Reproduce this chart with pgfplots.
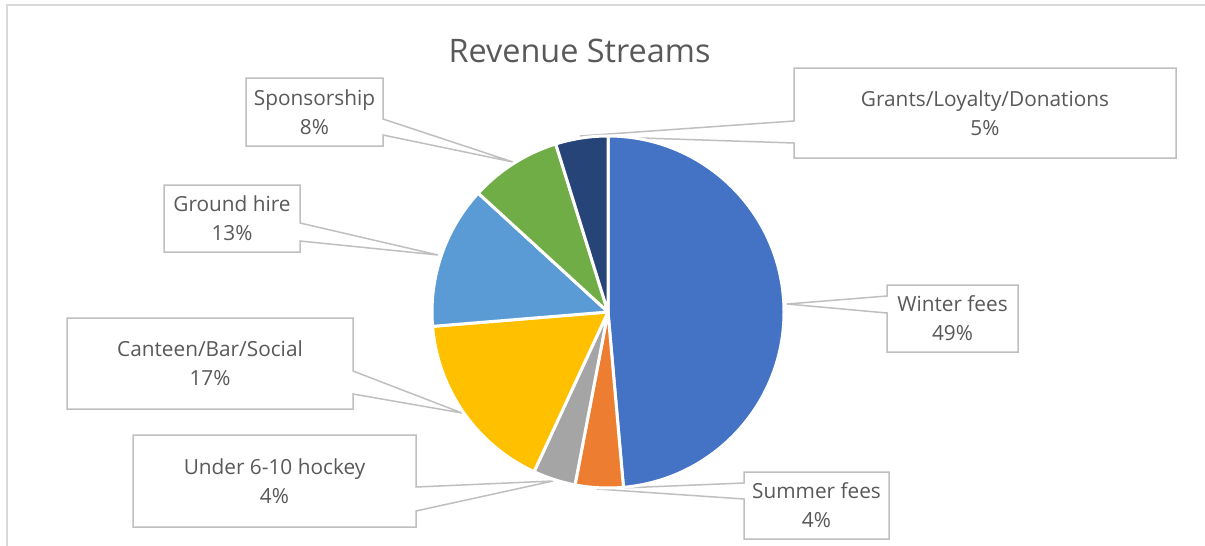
\documentclass[border=0pt]{standalone}
\usepackage{pgfplots}
\pgfplotsset{compat=1.18}
\usepackage{pgfplotstable}
\usepackage{fontspec}
\setmainfont{Open Sans}

\definecolor{c1}{HTML}{4472C4}
\definecolor{c2}{HTML}{ED7D31}
\definecolor{c3}{HTML}{A5A5A5}
\definecolor{c4}{HTML}{FFC000}
\definecolor{c5}{HTML}{5B9BD5}
\definecolor{c6}{HTML}{70AD47}
\definecolor{c7}{HTML}{264478}
\definecolor{txt}{HTML}{595959}
\definecolor{boxgray}{HTML}{BFBFBF}
\definecolor{framegray}{HTML}{D9D9D9}

% share of revenue, clockwise from 12 o'clock
\pgfplotstableread[col sep=comma]{
name,value,color
Winter fees,48.6,c1
Summer fees,4.4,c2
Under 6-10 hockey,3.9,c3
Canteen/Bar/Social,16.8,c4
Ground hire,13.1,c5
Sponsorship,8.4,c6
Grants/Loyalty/Donations,4.8,c7
}\revtable

\begin{document}
\begin{tikzpicture}[
    callout/.style={draw=boxgray, fill=white, line width=0.75pt, line join=miter},
    lbl/.style={text=txt, align=center, font=\fontsize{10.4}{14.5}\selectfont},
  ]
\begin{axis}[
    name=ax,
    scale only axis,
    width=602.5pt, height=273pt,
    xmin=0, xmax=1205, ymin=0, ymax=546,
    y dir=reverse,
    hide axis,
    clip=false,
  ]
  % chart area border (cropped on right and bottom)
  \draw[framegray, line width=0.75pt] (axis cs:7,546) -- (axis cs:7,5) -- (axis cs:1205,5);

  \node[text=txt, anchor=base, font=\fontsize{16.2}{20}\selectfont] at (axis cs:579.5,62.7) {Revenue Streams};

  % data label callouts
  \draw[callout] (axis cs:246,78) -- (axis cs:383,78) -- (axis cs:383,119) -- (axis cs:513,162)
    -- (axis cs:383,135) -- (axis cs:383,146) -- (axis cs:246,146) -- cycle;
  \draw[callout] (axis cs:794,68) -- (axis cs:1176,68) -- (axis cs:1176,158) -- (axis cs:794,158)
    -- (axis cs:794,143) -- (axis cs:580,136) -- (axis cs:794,121) -- cycle;
  \draw[callout] (axis cs:164,185) -- (axis cs:300,185) -- (axis cs:300,223) -- (axis cs:438,255)
    -- (axis cs:300,241) -- (axis cs:300,252) -- (axis cs:164,252) -- cycle;
  \draw[callout] (axis cs:67,318) -- (axis cs:353,318) -- (axis cs:353,371) -- (axis cs:462,413)
    -- (axis cs:353,394) -- (axis cs:353,409) -- (axis cs:67,409) -- cycle;
  \draw[callout] (axis cs:133,435) -- (axis cs:416,435) -- (axis cs:416,487) -- (axis cs:553,481)
    -- (axis cs:416,511) -- (axis cs:416,527) -- (axis cs:133,527) -- cycle;
  \draw[callout] (axis cs:887,285) -- (axis cs:1018,285) -- (axis cs:1018,352) -- (axis cs:887,352)
    -- (axis cs:887,313) -- (axis cs:787,304) -- (axis cs:887,296) -- cycle;
  \draw[callout] (axis cs:744,472) -- (axis cs:889,472) -- (axis cs:889,539) -- (axis cs:744,539)
    -- (axis cs:744,499) -- (axis cs:597,489) -- (axis cs:744,483) -- cycle;

  % pie wedges from the table
  \def\angA{90}
  \pgfplotsforeachungrouped \i in {0,...,6}{
    \pgfplotstablegetelem{\i}{value}\of\revtable \let\val\pgfplotsretval
    \pgfplotstablegetelem{\i}{color}\of\revtable \let\col\pgfplotsretval
    \pgfmathsetmacro\angB{\angA-3.6*\val}
    \edef\wedge{\noexpand\fill[\col, draw=white, line width=1.5pt, line join=round]
      (axis cs:608,312) -- ++(\angA:88pt) arc[start angle=\angA, end angle=\angB, radius=88pt] -- cycle;}
    \wedge
    \global\let\angA\angB
  }

  \node[lbl] at (axis cs:314.5,112) {Sponsorship\\8\%};
  \node[lbl] at (axis cs:985,113) {Grants/Loyalty/Donations\\5\%};
  \node[lbl] at (axis cs:232,218.5) {Ground hire\\13\%};
  \node[lbl] at (axis cs:210,363.5) {Canteen/Bar/Social\\17\%};
  \node[lbl] at (axis cs:274.5,481) {Under 6-10 hockey\\4\%};
  \node[lbl] at (axis cs:952.5,318.5) {Winter fees\\49\%};
  \node[lbl] at (axis cs:816.5,505.5) {Summer fees\\4\%};
\end{axis}
\pgfresetboundingbox
\path (ax.south west) rectangle (ax.north east);
\end{tikzpicture}
\end{document}
